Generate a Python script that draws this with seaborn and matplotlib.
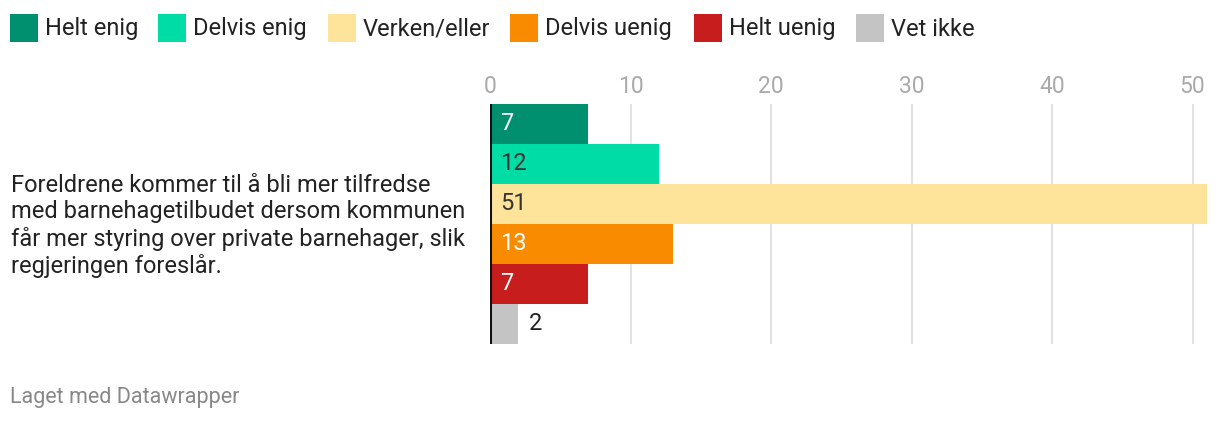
import matplotlib
matplotlib.use("Agg")
import matplotlib.pyplot as plt
import seaborn as sns
import pandas as pd
from matplotlib.patches import Rectangle

categories = ["Helt enig", "Delvis enig", "Verken/eller", "Delvis uenig", "Helt uenig", "Vet ikke"]
values = [7, 12, 51, 13, 7, 2]
colors = ["#00906f", "#00dca6", "#fee39b", "#f98b00", "#c71e1d", "#c4c4c4"]
label_colors = ["white", "#333333", "#333333", "white", "white", "#222222"]
ticks = [0, 10, 20, 30, 40, 50]
question = ("Foreldrene kommer til å bli mer tilfredse\n"
            "med barnehagetilbudet dersom kommunen\n"
            "får mer styring over private barnehager, slik\n"
            "regjeringen foreslår.")

sns.set_theme(style="white")
plt.rcParams["font.family"] = ["Roboto", "DejaVu Sans"]

W, H = 1220, 422
fig = plt.figure(figsize=(W / 100, H / 100), dpi=100)
ax = fig.add_axes([490 / W, 78 / H, (1208 - 490) / W, 240 / H])

df = pd.DataFrame({"cat": categories, "val": values})
sns.barplot(data=df, x="val", y="cat", hue="cat", palette=colors, order=categories,
            hue_order=categories, dodge=False, width=1.0, legend=False, ax=ax,
            saturation=1, linewidth=0, zorder=2)

ax.set_xlim(0, 51.1)
ax.set_ylim(5.5, -0.5)
ax.set_xticks(ticks)
ax.xaxis.tick_top()
ax.tick_params(axis="x", length=0, pad=4, labelsize=16.5, labelcolor="#aaaaaa")
ax.set_yticks([])
ax.set_xlabel("")
ax.set_ylabel("")
for s in ax.spines.values():
    s.set_visible(False)
for t in ticks[1:]:
    ax.axvline(t, color="#e2e2e2", lw=1.5, zorder=1)
ax.axvline(0, color="#111111", lw=2.2, zorder=3)

for i, (v, c) in enumerate(zip(values, label_colors)):
    if v >= 5:
        ax.text(0.75, i, str(v), color=c, va="center", ha="left", fontsize=17)
    else:
        ax.text(v + 0.8, i, str(v), color=c, va="center", ha="left", fontsize=17)

fig.text(11 / W, 1 - 226 / H, question, fontsize=17, color="#222222",
         va="center", ha="left", linespacing=1.18)

# legend (manual layout, one swatch per category)
leg_x = [10, 158, 328, 510, 694, 856]
for x0, cat, col in zip(leg_x, categories, colors):
    fig.patches.append(Rectangle((x0 / W, 1 - 42 / H), 28 / W, 28 / H,
                                 transform=fig.transFigure, facecolor=col,
                                 edgecolor="none"))
    fig.text((x0 + 35) / W, 1 - 29 / H, cat, fontsize=17, color="#222222",
             va="center", ha="left")

fig.text(10 / W, 1 - 397 / H, "Laget med Datawrapper", fontsize=15.5, color="#888888",
         va="center", ha="left")

fig.savefig("out.png", dpi=100, facecolor="white")
